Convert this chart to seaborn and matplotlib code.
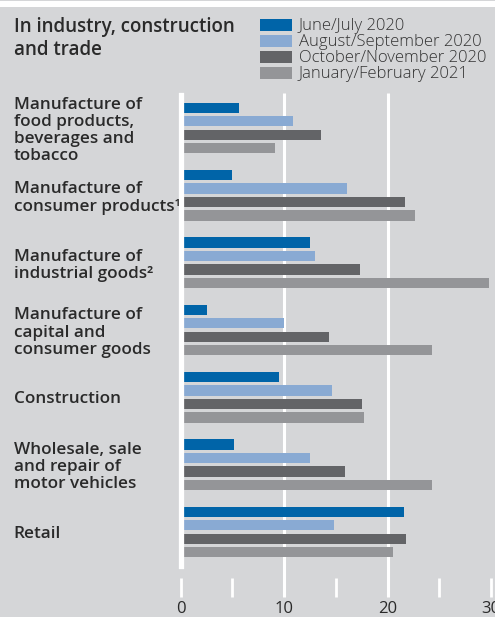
import matplotlib
matplotlib.use("Agg")
import matplotlib.pyplot as plt
import matplotlib.patches as mpatches
import matplotlib.transforms as mtransforms
import numpy as np
import pandas as pd
import seaborn as sns

# ---- data -------------------------------------------------------------
categories = [
    "Manufacture of\nfood products,\nbeverages and\ntobacco",
    "Manufacture of\nconsumer products\u00b9",
    "Manufacture of\nindustrial goods\u00b2",
    "Manufacture of\ncapital and\nconsumer goods",
    "Construction",
    "Wholesale, sale\nand repair of\nmotor vehicles",
    "Retail",
]
periods = [
    "June/July 2020",
    "August/September 2020",
    "October/November 2020",
    "January/February 2021",
]
june_july = [5.7, 5.0, 12.5, 2.6, 9.5, 5.2, 21.6]
aug_sep = [10.9, 16.1, 13.0, 10.0, 14.6, 12.5, 14.8]
oct_nov = [13.6, 21.7, 17.3, 14.3, 17.5, 15.9, 21.8]
jan_feb = [9.1, 22.7, 29.8, 24.3, 17.7, 24.3, 20.5]
x_ticks = [0, 10, 20, 30]
x_minor = [0, 5, 15, 25, 30]

colors = ["#0064a8", "#89aad3", "#636467", "#949598"]
bg = "#d5d6d8"
text_c = "#2a2a2a"

df = pd.DataFrame({
    "category": np.repeat(categories, 4),
    "period": periods * len(categories),
    "value": np.ravel(np.column_stack([june_july, aug_sep, oct_nov, jan_feb])),
})

# ---- figure -----------------------------------------------------------
W, H = 495, 617
fig = plt.figure(figsize=(W / 100, H / 100), dpi=100, facecolor=bg)
plt.rcParams["font.family"] = ["Open Sans", "DejaVu Sans"]

def px(x0, y0, x1, y1):
    return [x0 / W, 1 - y1 / H, (x1 - x0) / W, (y1 - y0) / H]

# white stripe along the top edge
fig.patches.append(mpatches.Rectangle((0, 1 - 6.5 / H), 1, 5.5 / H,
                                      transform=fig.transFigure,
                                      facecolor="white", edgecolor="none"))

ax = fig.add_axes(px(180.5, 95, 491, 566))
ax.set_facecolor(bg)

sns.barplot(data=df, y="category", x="value", hue="period",
            hue_order=periods, palette=colors, orient="h",
            width=0.8, gap=0.24, saturation=1, ax=ax, legend=False,
            errorbar=None, zorder=2)

ax.set_xlim(0, 30)
ax.set_ylim(6.505, -0.49)
ax.set_xlabel("")
ax.set_ylabel("")

for s in ["top", "right", "bottom"]:
    ax.spines[s].set_visible(False)
ax.spines["left"].set_color("white")
ax.spines["left"].set_linewidth(3.8)
ax.spines["left"].set_zorder(3)

# white vertical grid lines, running down past the axis to the tick row
trans = mtransforms.blended_transform_factory(ax.transData, ax.transAxes)
for v in [10, 20]:
    ax.plot([v, v], [1.005, -31 / 471], transform=trans, color="white",
            lw=2.2, clip_on=False, zorder=0, solid_capstyle="butt")
for v in x_minor:
    ax.plot([v, v], [-12 / 471, -31 / 471], transform=trans, color="white",
            lw=2.0, clip_on=False, zorder=0, solid_capstyle="butt")

ax.set_xticks(x_ticks)
ax.set_xticklabels([str(t) for t in x_ticks])
ax.tick_params(axis="x", length=0, pad=25, labelsize=12, labelcolor=text_c)
ax.tick_params(axis="y", length=0, pad=120, labelsize=12.3, labelcolor=text_c)
for lbl in ax.get_yticklabels():
    lbl.set_horizontalalignment("left")
    lbl.set_linespacing(1.1)
    lbl.set_fontweight("semibold")

# title
fig.text(14 / W, 1 - 17 / H, "In industry, construction\nand trade",
         ha="left", va="top", fontsize=13.5, color=text_c, linespacing=1.2,
         fontweight="semibold")

# legend
handles = [mpatches.Patch(facecolor=c, edgecolor="none") for c in colors]
leg = fig.legend(handles, periods, loc="upper left",
                 bbox_to_anchor=(260 / W, 1 - 18.5 / H),
                 frameon=False, fontsize=12, handlelength=1.9,
                 handleheight=0.72, handletextpad=0.42, labelspacing=0.0,
                 borderaxespad=0, borderpad=0, labelcolor="#333333",
                 prop={"weight": "light", "size": 12})

fig.savefig("out.png", dpi=100, facecolor=bg)
